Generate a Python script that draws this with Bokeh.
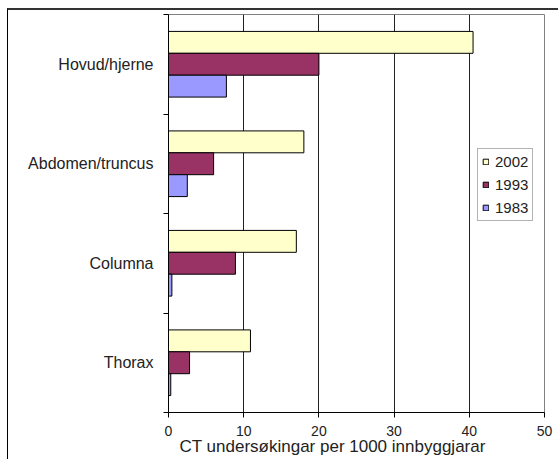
from bokeh.plotting import figure
from bokeh.models import (ColumnDataSource, FixedTicker, Legend, LegendItem,
                          Title, Range1d)
from bokeh.embed import file_html
from bokeh.resources import INLINE

# ---- data ----
categories = ["Hovud/hjerne", "Abdomen/truncus", "Columna", "Thorax"]
years = ["2002", "1993", "1983"]
v2002 = [40.5, 18.0, 17.0, 10.9]
v1993 = [20.0, 6.0, 8.9, 2.8]
v1983 = [7.7, 2.5, 0.45, 0.3]
x_ticks = [0, 10, 20, 30, 40, 50]
x_title = "CT undersøkingar per 1000 innbyggjarar"

colors = {"2002": "#FFFFCC", "1993": "#993366", "1983": "#9999FF"}
series = {"2002": v2002, "1993": v1993, "1983": v1983}
offsets = {"2002": 0.22, "1993": 0.0, "1983": -0.22}
n = len(categories)
centers = [n - i - 0.5 for i in range(n)]

FONT = "Liberation Sans"

# canvas starts at (8, 10) after the css margin + border
p = figure(width=550, height=449, output_backend="svg", toolbar_location=None,
           x_range=Range1d(0, 50), y_range=Range1d(0, n),
           frame_width=376, frame_height=398,
           min_border_left=160, min_border_right=14,
           min_border_top=4, min_border_bottom=47)
p.styles = {"margin-left": "7px", "margin-top": "8px",
            "border-left": "1px solid #000000",
            "border-top": "2px solid #333333"}

renderers = {}
for yr in years:
    src = ColumnDataSource(dict(y=[c + offsets[yr] for c in centers],
                                right=series[yr], left=[0] * n))
    renderers[yr] = p.hbar(y="y", left="left", right="right", height=0.22,
                           source=src, fill_color=colors[yr],
                           line_color="black", line_width=1)

# grid
p.ygrid.visible = False
p.xgrid.ticker = FixedTicker(ticks=[10, 20, 30, 40])
p.xgrid.grid_line_color = "#222222"
p.xgrid.grid_line_width = 1

p.outline_line_color = "#808080"
p.outline_line_width = 1
p.background_fill_color = "white"
p.border_fill_color = "white"

# x axis
xa = p.xaxis[0]
xa.ticker = FixedTicker(ticks=x_ticks)
xa.minor_tick_line_color = None
xa.major_tick_in = 0
xa.major_tick_out = 5
xa.axis_line_color = "black"
xa.major_tick_line_color = "black"
xa.major_label_text_font = FONT
xa.major_label_text_font_size = "14px"
xa.major_label_text_color = "#222222"
xa.major_label_standoff = 8

# y axis: labels at centres, ticks at boundaries
ya = p.yaxis[0]
ya.ticker = FixedTicker(ticks=centers, minor_ticks=list(range(n + 1)))
ya.major_label_overrides = {c: lab for c, lab in zip(centers, categories)}
ya.major_tick_line_color = None
ya.major_tick_in = 0
ya.major_tick_out = 5
ya.minor_tick_in = 0
ya.minor_tick_out = 5
ya.minor_tick_line_color = "black"
ya.axis_line_color = "black"
ya.major_label_text_font = FONT
ya.major_label_text_font_size = "16px"
ya.major_label_text_color = "#222222"
ya.major_label_standoff = 10

# x title
p.add_layout(Title(text=x_title, align="left", offset=11, standoff=-8,
                   text_font=FONT, text_font_size="17px",
                   text_font_style="normal", text_color="#222222"), "below")

legend = Legend(items=[LegendItem(label=yr, renderers=[renderers[yr]]) for yr in years],
                location=(309, 191), orientation="vertical",
                glyph_width=7, glyph_height=7, label_height=15, label_standoff=6,
                spacing=6, padding=4, margin=0,
                label_text_font=FONT, label_text_font_size="15px",
                label_text_color="#222222",
                border_line_color="#666666", border_line_width=1,
                background_fill_color="white", background_fill_alpha=1)
p.add_layout(legend)

open("out.html", "w").write(file_html(p, INLINE))
